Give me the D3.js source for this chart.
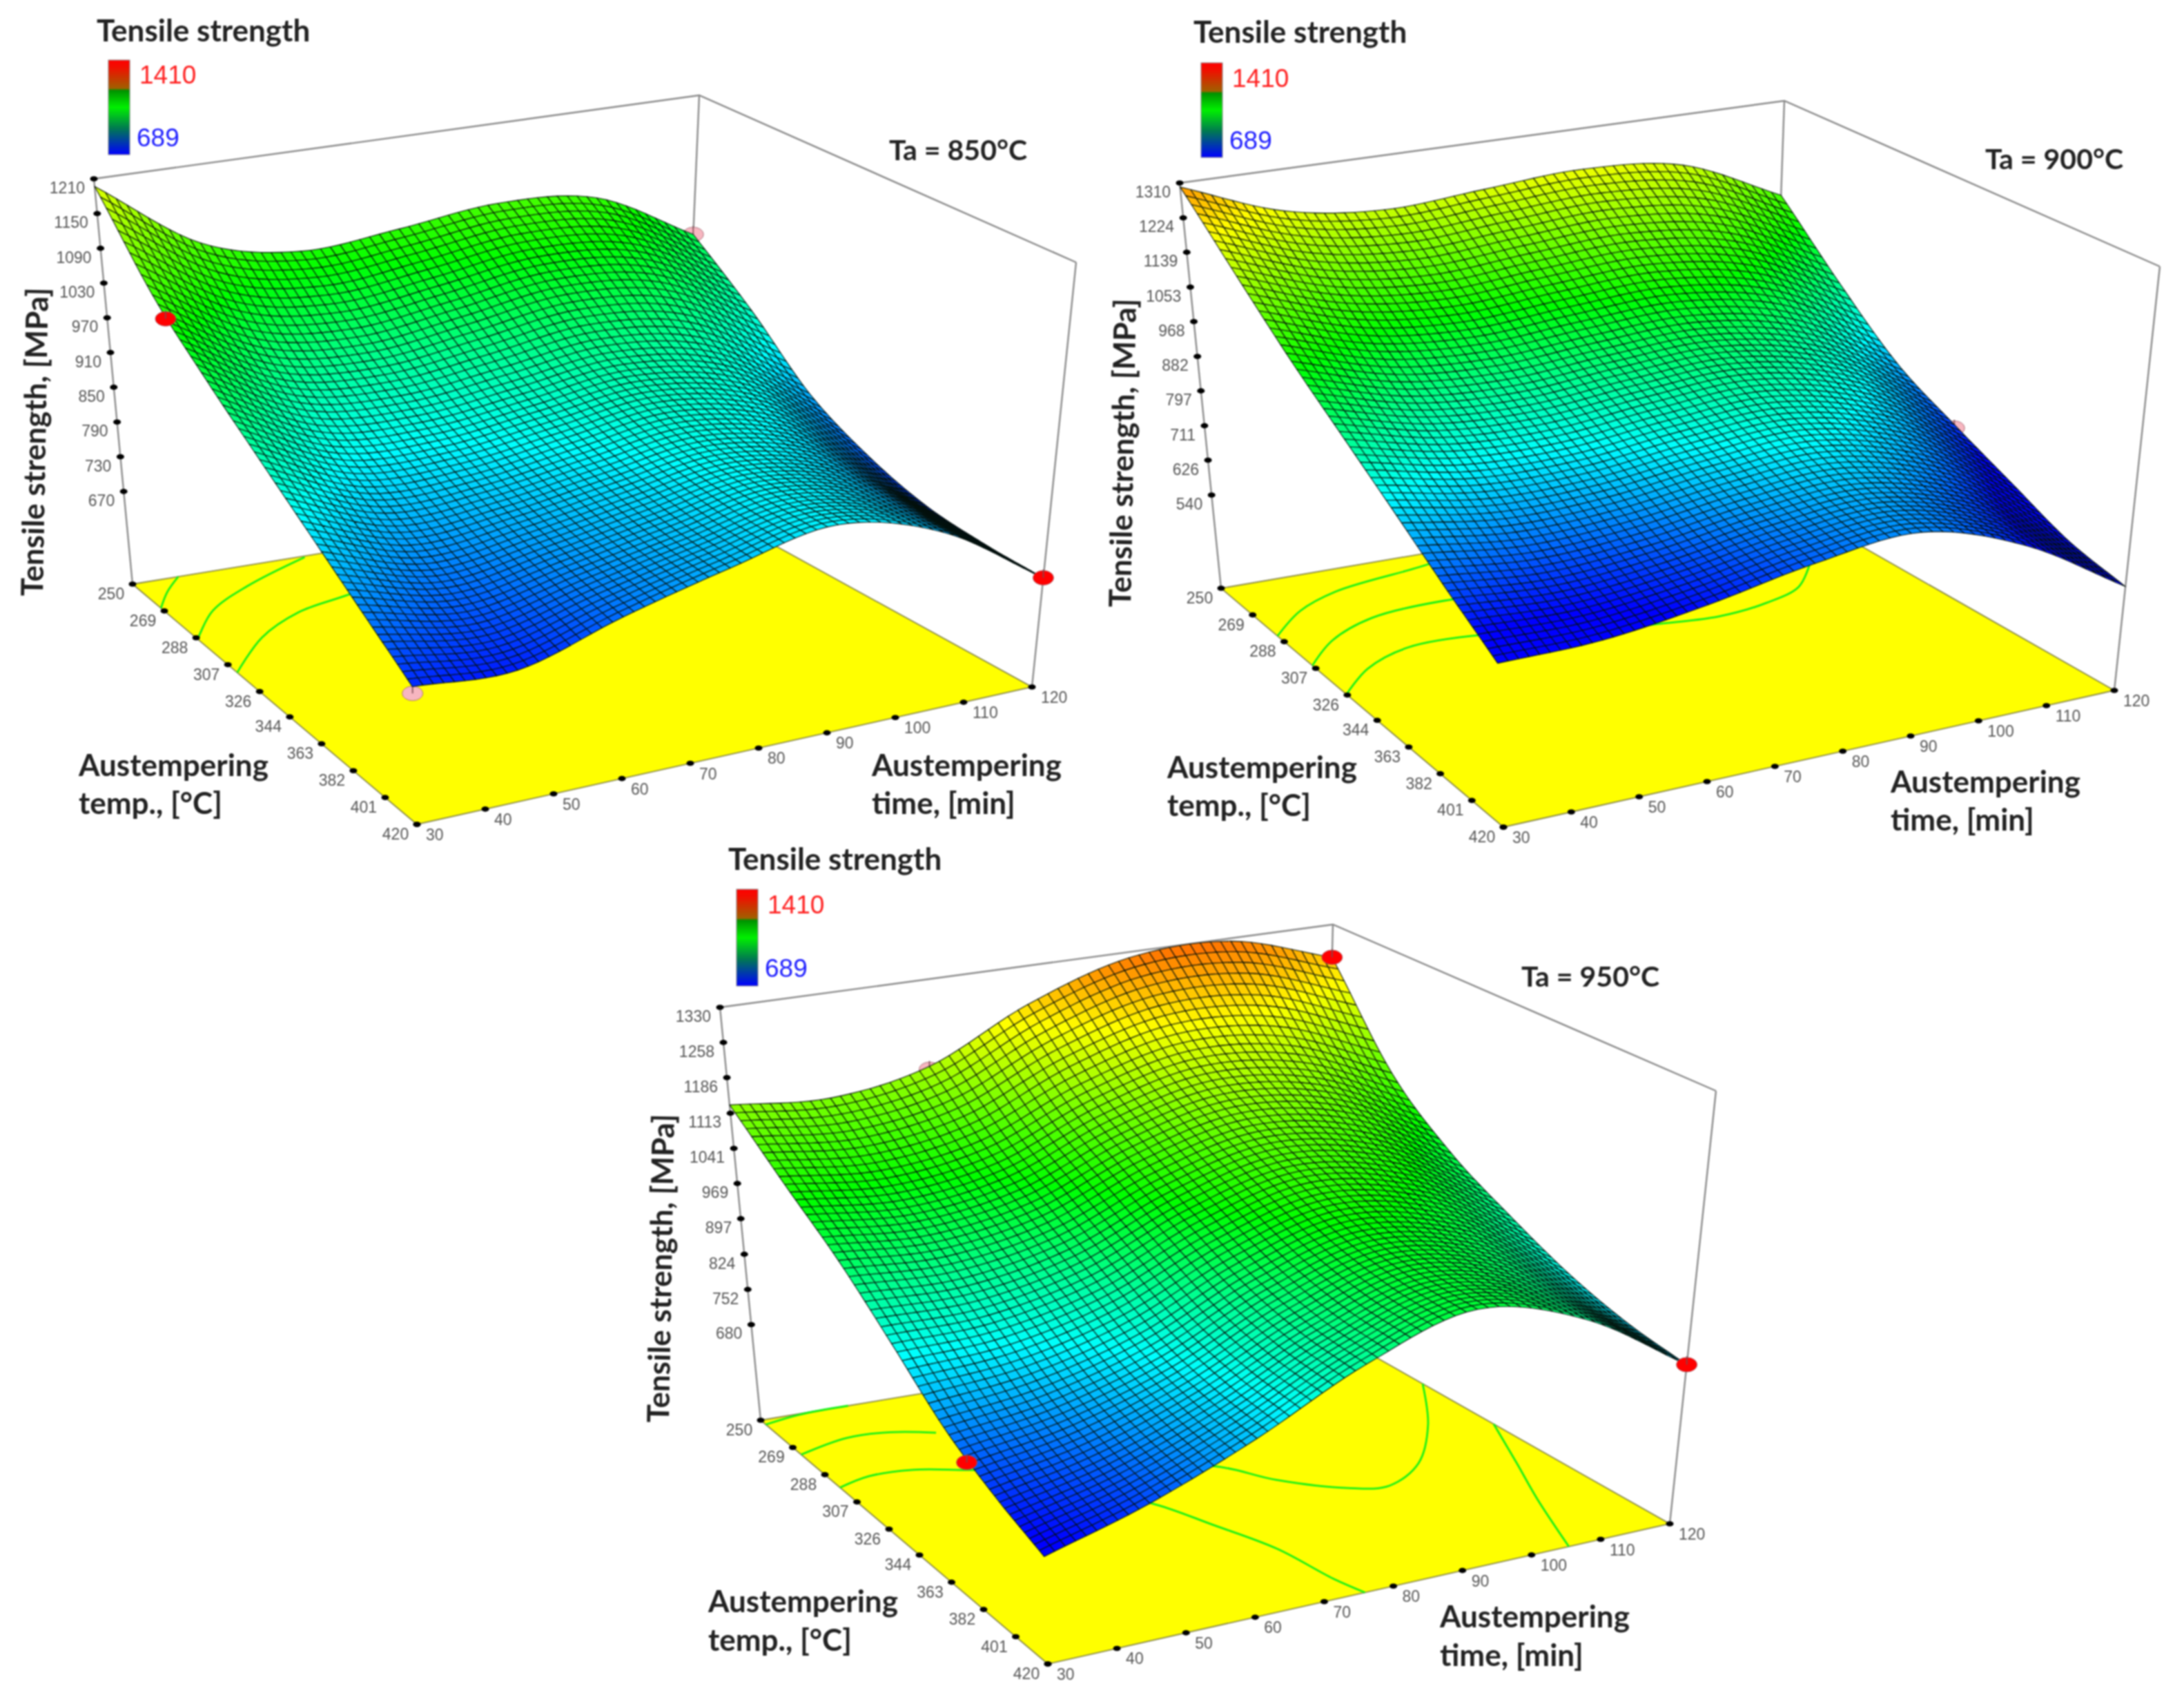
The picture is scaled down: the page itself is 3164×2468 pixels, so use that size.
<!DOCTYPE html>
<html>
<head>
<meta charset="utf-8">
<title>Tensile strength response surfaces</title>
<script src="https://cdn.jsdelivr.net/npm/d3@7"></script>
<style>
  html, body { margin: 0; background: #fff; }
  svg { display: block; filter: blur(0.9px); }
  .tick { font-family: "Liberation Sans", sans-serif; font-size: 23px; fill: #555; }
  .lab { font-family: Lato, sans-serif; font-weight: 700; font-size: 44px; fill: #222; }
  .ta { font-family: Lato, sans-serif; font-weight: 700; font-size: 41px; fill: #222; }
  .leg { font-family: "Liberation Sans", sans-serif; font-size: 37px; }
</style>
</head>
<body>
<script>
// axis ticks
var timeTicks = [30, 40, 50, 60, 70, 80, 90, 100, 110, 120];
var tempTicks = [250, 269, 288, 307, 326, 344, 363, 382, 401, 420];
var zTicks850 = [1210, 1150, 1090, 1030, 970, 910, 850, 790, 730, 670];
var zTicks900 = [1310, 1224, 1139, 1053, 968, 882, 797, 711, 626, 540];
var zTicks950 = [1330, 1258, 1186, 1113, 1041, 969, 897, 824, 752, 680];

// surface values, rows = temp, columns = time
var timeNodes = [30, 45, 60, 75, 90, 105, 120];
var tempNodes = [250, 278, 307, 335, 363, 392, 420];
var strength850 = [
  [1197, 1075, 1036, 1050, 1070, 1055, 966],
  [1063, 964, 942, 964, 990, 973, 884],
  [973, 887, 875, 895, 918, 892, 794],
  [899, 829, 830, 855, 879, 844, 741],
  [832, 781, 798, 827, 853, 815, 708],
  [770, 742, 775, 810, 843, 801, 695],
  [713, 707, 757, 802, 840, 797, 690]
];
var strength900 = [
  [1300, 1207, 1175, 1191, 1207, 1182, 1070],
  [1155, 1075, 1049, 1067, 1081, 1043, 922],
  [1027, 960, 944, 963, 975, 927, 797],
  [922, 873, 868, 894, 910, 854, 720],
  [826, 795, 803, 834, 852, 790, 653],
  [736, 722, 743, 782, 801, 733, 590],
  [657, 664, 698, 746, 773, 698, 555]
];
var strength950 = [
  [1130, 1115, 1151, 1250, 1318, 1324, 1261],
  [1037, 1019, 1049, 1133, 1186, 1167, 1079],
  [955, 945, 979, 1060, 1109, 1078, 975],
  [863, 870, 915, 1001, 1055, 1016, 908],
  [774, 801, 858, 951, 1010, 967, 853],
  [717, 758, 828, 923, 987, 937, 816],
  [676, 733, 813, 913, 979, 923, 795]
];

// contour lines on the floor as [time, temp]
var contours850 = [
  [[30, 267], [33.5, 258], [37.5, 250]],
  [[30, 289], [36.4, 274], [45.2, 262.6], [58, 250.7]],
  [[30, 312.6], [38.7, 294.7], [47.5, 283.7], [55.7, 279], [65, 274]]
];
var contours900 = [
  [[30, 284], [37, 271.6], [44.9, 263.8], [60.2, 257.8], [72, 252]],
  [[30, 305], [36.5, 292.5], [45.2, 283.5], [57.4, 281], [70, 285]],
  [[30, 325.5], [36.6, 313], [45.1, 305], [56.8, 306], [68, 315], [81, 320], [89, 322.4], [97.3, 319.7], [104.3, 313.4], [110, 300.5]]
];
var contours950 = [
  [[30, 253], [36, 250.5], [44, 250]],
  [[30, 274], [38.6, 268.9], [45.2, 270], [51, 275]],
  [[30, 297], [35.4, 293.5], [42, 294.4], [49.3, 300.8], [65, 315], [79.6, 325.8], [84.6, 341.8], [91.3, 355.4], [96.6, 359.3], [104, 349], [112.4, 326], [120, 299]],
  [[60, 325], [66.3, 342.3], [69.6, 360.8], [73.1, 383], [74.6, 407.8], [75.9, 420]],
  [[120, 333.8], [114.9, 361.9], [110.5, 386.7], [105.4, 420]]
];

// design points [time, temp, strength], red sit above the surface, pink below
var red850 = [[30, 285, 1035], [120, 420, 690]];
var pink850 = [[120, 250, 966], [30, 420, 703]];
var red900 = [];
var pink900 = [[120, 335, 712]];
var red950 = [[120, 250, 1261], [120, 420, 795], [30, 376, 740]];
var pink950 = [[60, 250, 1145]];

var legendStops = [
  [0, "#ff0000"], [0.08, "#f01000"], [0.3, "#a06000"], [0.32, "#009000"],
  [0.5, "#00f000"], [0.72, "#007a50"], [1, "#0000ff"]
];

var colorDomain = [689, 848, 1015, 1220, 1410];
var colorRange = ["#0000ff", "#00ffff", "#00ff00", "#ffff00", "#ff0000"];
var colorScale = d3.scaleLinear().domain(colorDomain).range(colorRange).clamp(true);

var xScale = d3.scaleLinear().domain([30, 120]).range([0, 1]);
var yScale = d3.scaleLinear().domain([250, 420]).range([0, 1]);

var meshCells = 60;

var svg = d3.select("body").append("svg")
  .attr("width", 3164)
  .attr("height", 2468);

var defs = svg.append("defs");
var grad = defs.append("linearGradient")
  .attr("id", "legendGrad")
  .attr("x1", 0).attr("y1", 0).attr("x2", 0).attr("y2", 1);
grad.selectAll("stop").data(legendStops).join("stop")
  .attr("offset", d => d[0])
  .attr("stop-color", d => d[1]);

function catmull(p0, p1, p2, p3, t) {
  return 0.5 * (2 * p1 + (p2 - p0) * t + (2 * p0 - 5 * p1 + 4 * p2 - p3) * t * t + (3 * p1 - p0 - 3 * p2 + p3) * t * t * t);
}

function along(arr, s) {
  var n = arr.length - 1;
  var pos = Math.min(s * n, n - 1e-9);
  var i = Math.floor(pos);
  var a = arr[Math.max(i - 1, 0)];
  var d = arr[Math.min(i + 2, n)];
  // end points get mirrored so the edges don't flatten
  if (i === 0) a = 2 * arr[0] - arr[1];
  if (i + 2 > n) d = 2 * arr[n] - arr[n - 1];
  return catmull(a, arr[i], arr[i + 1], d, pos - i);
}

function surfaceAt(grid, u, v) {
  var col = grid.map(row => along(row, u));
  return along(col, v);
}

function drawPlot(cfg) {
  var box = cfg.box;
  var zScale = d3.scaleLinear().domain(cfg.zRange).range([0, 1]);

  function project(u, v, w) {
    return [0, 1].map(function(n) {
      var fl = (1 - u) * (1 - v) * box.f00[n] + u * (1 - v) * box.f10[n] + (1 - u) * v * box.f01[n] + u * v * box.f11[n];
      var tp = (1 - u) * (1 - v) * box.t00[n] + u * (1 - v) * box.t10[n] + (1 - u) * v * box.t01[n] + u * v * box.t11[n];
      return (1 - w) * fl + w * tp;
    });
  }
  function place(time, temp, z) {
    return project(xScale(time), yScale(temp), zScale(z));
  }

  var g = svg.append("g");
  var outline = d3.line();

  // box behind the surface
  g.append("path")
    .attr("d", outline([box.t00, box.t10, box.t11]) + outline([box.t10, box.f10]) + outline([box.t00, box.f00]) + outline([box.t11, box.f11]))
    .attr("fill", "none").attr("stroke", "#8a8a8a").attr("stroke-width", 2.4);

  g.append("path")
    .attr("d", outline([box.f00, box.f10, box.f11, box.f01]) + "Z")
    .attr("fill", "#ffff00").attr("stroke", "#8a8a4a").attr("stroke-width", 1.8);

  var contourLine = d3.line()
    .x(d => place(d[0], d[1], cfg.zRange[0])[0])
    .y(d => place(d[0], d[1], cfg.zRange[0])[1])
    .curve(d3.curveCatmullRom);
  g.selectAll(".contour").data(cfg.contours).join("path")
    .attr("class", "contour")
    .attr("d", contourLine)
    .attr("fill", "none").attr("stroke", "#16f016").attr("stroke-width", 2.8);

  function drawMarks(data, fill) {
    var name = "mark-" + fill.slice(1);
    g.selectAll("ellipse." + name).data(data).join("ellipse")
      .attr("class", name)
      .attr("cx", d => place(d[0], d[1], d[2])[0])
      .attr("cy", d => place(d[0], d[1], d[2])[1])
      .attr("rx", 15).attr("ry", 10.5)
      .attr("fill", fill).attr("stroke", "#99606a").attr("stroke-width", 0.8);
    g.selectAll("line." + name).data(data).join("line")
      .attr("class", name)
      .attr("x1", d => place(d[0], d[1], d[2])[0])
      .attr("x2", d => place(d[0], d[1], d[2])[0])
      .attr("y1", d => place(d[0], d[1], d[2])[1])
      .attr("y2", d => place(d[0], d[1], d[2])[1] - 12)
      .attr("stroke", "#7a4a50").attr("stroke-width", 1.6);
  }
  drawMarks(cfg.pink, "#f7b6c0");

  // surface mesh, painted from the back corner to the front corner
  var cells = [];
  d3.range(meshCells).forEach(function(j) {
    d3.range(meshCells - 1, -1, -1).forEach(function(i) {
      var corners = [[i, j], [i + 1, j], [i + 1, j + 1], [i, j + 1]].map(function(c) {
        var u = c[0] / meshCells, v = c[1] / meshCells;
        var z = surfaceAt(cfg.values, u, v);
        return { p: project(u, v, zScale(z)), z: z };
      });
      cells.push(corners);
    });
  });
  g.append("g").selectAll("path").data(cells).join("path")
    .attr("d", d => outline(d.map(c => c.p)) + "Z")
    .attr("fill", d => colorScale(d3.mean(d, c => c.z)))
    .attr("stroke", "#04100a").attr("stroke-width", 1.1).attr("stroke-linejoin", "round");

  drawMarks(cfg.red, "#ff0000");

  // tick dots
  function dots(data, pos) {
    g.append("g").selectAll("ellipse").data(data).join("ellipse")
      .attr("cx", d => pos(d)[0]).attr("cy", d => pos(d)[1])
      .attr("rx", 5.5).attr("ry", 3.8).attr("fill", "#000");
  }
  var zPos = d => place(30, 250, d);
  var tempPos = d => place(30, d, cfg.zRange[0]);
  var timePos = d => place(d, 420, cfg.zRange[0]);
  dots(cfg.zTicks, zPos);
  dots(tempTicks, tempPos);
  dots(timeTicks, timePos);

  g.append("g").selectAll("text").data(cfg.zTicks).join("text")
    .attr("class", "tick").attr("text-anchor", "end").attr("dominant-baseline", "central")
    .attr("x", d => zPos(d)[0] - 13).attr("y", d => zPos(d)[1] + 13).text(d => d);
  g.append("g").selectAll("text").data(tempTicks).join("text")
    .attr("class", "tick").attr("text-anchor", "middle").attr("dominant-baseline", "central")
    .attr("x", d => tempPos(d)[0] - 31).attr("y", d => tempPos(d)[1] + 14).text(d => d);
  g.append("g").selectAll("text").data(timeTicks).join("text")
    .attr("class", "tick").attr("text-anchor", "start").attr("dominant-baseline", "central")
    .attr("x", d => timePos(d)[0] + 13).attr("y", d => timePos(d)[1] + 15).text(d => d);

  // legend
  var leg = cfg.legend;
  g.append("text").attr("class", "lab").attr("x", leg.titleX).attr("y", leg.titleY).text("Tensile strength");
  g.append("rect")
    .attr("x", leg.x).attr("y", leg.y).attr("width", 31).attr("height", leg.h)
    .attr("fill", "url(#legendGrad)").attr("stroke", "#888").attr("stroke-width", 1);
  g.append("text").attr("class", "leg").attr("x", leg.x + 45).attr("y", leg.hiY)
    .attr("dominant-baseline", "central").attr("fill", "#ff2020").text("1410");
  g.append("text").attr("class", "leg").attr("x", leg.x + 41).attr("y", leg.loY)
    .attr("dominant-baseline", "central").attr("fill", "#2020ff").text("689");

  g.append("text").attr("class", "ta").attr("x", cfg.ta[0]).attr("y", cfg.ta[1])
    .attr("dominant-baseline", "central").text(cfg.taText);

  g.append("text").attr("class", "lab").attr("text-anchor", "middle")
    .attr("dominant-baseline", "central")
    .attr("transform", "translate(" + cfg.zLabel[0] + "," + cfg.zLabel[1] + ") rotate(-89)")
    .text("Tensile strength, [MPa]");

  [["Austempering", "temp., [°C]", cfg.tempLabel], ["Austempering", "time, [min]", cfg.timeLabel]].forEach(function(l) {
    g.append("text").attr("class", "lab").attr("x", l[2][0]).attr("y", l[2][1]).attr("dominant-baseline", "central").text(l[0]);
    g.append("text").attr("class", "lab").attr("x", l[2][0]).attr("y", l[2][2]).attr("dominant-baseline", "central").text(l[1]);
  });
}

drawPlot({
  values: strength850, zRange: [510, 1210], zTicks: zTicks850,
  contours: contours850, red: red850, pink: pink850, taText: "Ta = 850°C",
  box: {
    f00: [192, 846], f10: [988, 716], f01: [604, 1194], f11: [1495, 995],
    t00: [136, 259], t10: [1013, 138], t01: [581, 506], t11: [1559, 380]
  },
  legend: { titleX: 140, titleY: 60, x: 157, y: 87, h: 137, hiY: 108, loY: 199 },
  ta: [1288, 216], zLabel: [49, 640],
  tempLabel: [114, 1107, 1162], timeLabel: [1263, 1107, 1162]
});

drawPlot({
  values: strength900, zRange: [310, 1310], zTicks: zTicks900,
  contours: contours900, red: red900, pink: pink900, taText: "Ta = 900°C",
  box: {
    f00: [1769, 852], f10: [2565, 716], f01: [2178, 1198], f11: [3063, 1000],
    t00: [1709, 265], t10: [2585, 146], t01: [2154, 514], t11: [3129, 386]
  },
  legend: { titleX: 1729, titleY: 62, x: 1740, y: 91, h: 137, hiY: 113, loY: 203 },
  ta: [2876, 229], zLabel: [1625, 656],
  tempLabel: [1691, 1110, 1165], timeLabel: [2739, 1131, 1186]
});

drawPlot({
  values: strength950, zRange: [484, 1330], zTicks: zTicks950,
  contours: contours950, red: red950, pink: pink950, taText: "Ta = 950°C",
  box: {
    f00: [1102, 2057], f10: [1916, 1922], f01: [1518, 2410], f11: [2419, 2207],
    t00: [1043, 1459], t10: [1931, 1339], t01: [1495, 1725], t11: [2486, 1580]
  },
  legend: { titleX: 1055, titleY: 1260, x: 1067, y: 1288, h: 140, hiY: 1310, loY: 1402 },
  ta: [2204, 1413], zLabel: [956, 1837],
  tempLabel: [1026, 2318, 2374], timeLabel: [2086, 2340, 2396]
});
</script>
</body>
</html>
